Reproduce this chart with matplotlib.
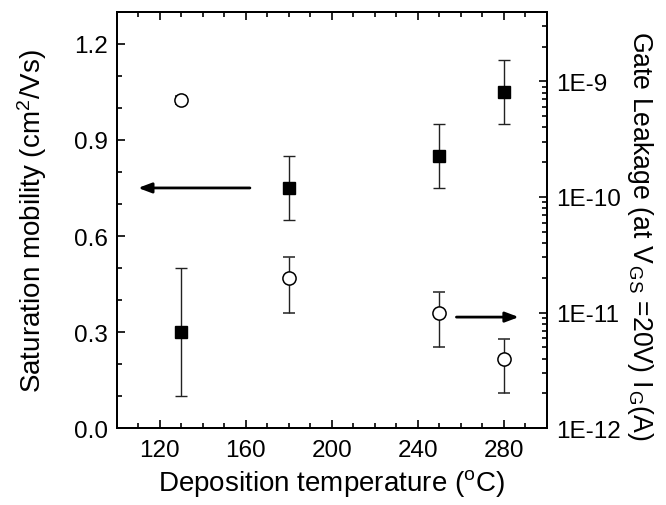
import matplotlib
matplotlib.use("Agg")
import matplotlib.pyplot as plt
from matplotlib.ticker import MultipleLocator, LogLocator, FuncFormatter, NullFormatter
import numpy as np

plt.rcParams['font.family'] = ['Liberation Sans', 'DejaVu Sans']
plt.rcParams['mathtext.fontset'] = 'custom'
plt.rcParams['mathtext.rm'] = 'Liberation Sans'
plt.rcParams['mathtext.it'] = 'Liberation Sans'
plt.rcParams['mathtext.bf'] = 'Liberation Sans:bold'

# 数据
temps = [130, 180, 250, 280]
mobility = [0.30, 0.75, 0.85, 1.05]
mobility_err = [0.20, 0.10, 0.10, 0.10]

leakage = [6.9e-10, 2.0e-11, 1.0e-11, 4.0e-12]
leakage_lo = [6.4e-10, 1.0e-11, 5.0e-12, 2.0e-12]
leakage_hi = [7.4e-10, 3.0e-11, 1.5e-11, 5.9e-12]

# 箭头 (温度, 迁移率坐标)
arrow_left = ((162, 0.75), (110, 0.75))
arrow_right = ((258, 0.347), (287, 0.347))

fig = plt.figure(figsize=(6.66, 5.06), dpi=100)
ax = fig.add_axes([0.175, 0.1516, 0.646, 0.8233])
ax2 = ax.twinx()

# 漏电流 (空心圆, 右轴)
lo = np.array(leakage) - np.array(leakage_lo)
hi = np.array(leakage_hi) - np.array(leakage)
ax2.errorbar(temps, leakage, yerr=[lo, hi], fmt='o', ms=9.5, mfc='white', mec='black',
             mew=1.1, ecolor='#222222', elinewidth=1.0, capsize=4.5, capthick=1.0)
ax2.set_yscale('log')
ax2.set_ylim(1e-12, 4e-9)
ax2.yaxis.set_major_locator(LogLocator(base=10, numticks=10))
ax2.yaxis.set_minor_locator(LogLocator(base=10, subs=np.arange(2, 10), numticks=20))
ax2.yaxis.set_major_formatter(FuncFormatter(lambda v, p: f"1E{int(round(np.log10(v)))}"))
ax2.yaxis.set_minor_formatter(NullFormatter())
ax2.set_ylabel("Gate Leakage (at V$_{\\,GS}$ =20V) I$_{\\,G}$(A)", fontsize=19.2,
               rotation=-90, va='center', ha='center')
ax2.yaxis.set_label_coords(1.217, 0.465)

# 迁移率 (实心方块, 左轴)
ax.errorbar(temps, mobility, yerr=mobility_err, fmt='s', ms=9, mfc='black', mec='black',
            ecolor='#222222', elinewidth=1.0, capsize=4.5, capthick=1.0, zorder=5)
ax.set_xlim(100, 300)
ax.set_ylim(0, 1.3)
ax.xaxis.set_major_locator(MultipleLocator(40))
ax.xaxis.set_minor_locator(MultipleLocator(10))
ax.yaxis.set_major_locator(MultipleLocator(0.3))
ax.yaxis.set_minor_locator(MultipleLocator(0.1))
ax.yaxis.set_major_formatter(FuncFormatter(lambda v, p: f"{v:.1f}"))
ax.set_xlabel("Deposition temperature ($^{\\rm o}$C)", fontsize=20, va='center')
ax.xaxis.set_label_coords(0.5, -0.13)
ax.set_ylabel("Saturation mobility (cm$^2$/Vs)", fontsize=20, va='center')
ax.yaxis.set_label_coords(-0.196, 0.5)

for a in (ax, ax2):
    for s in a.spines.values():
        s.set_linewidth(1.4)
ax.tick_params(axis='both', which='both', direction='in', top=True, right=False,
               labelsize=17.5, width=1.2)
ax.tick_params(which='major', length=6)
ax.tick_params(which='minor', length=3.5)
ax.tick_params(axis='x', pad=8)
ax.tick_params(axis='y', pad=6)
ax2.tick_params(axis='y', which='both', direction='in', labelsize=17.5, width=1.2, pad=7)
ax2.tick_params(which='major', length=6)
ax2.tick_params(which='minor', length=3.5)

# 箭头
for (start, end) in (arrow_left, arrow_right):
    ax.annotate("", xy=end, xytext=start,
                arrowprops=dict(arrowstyle='-|>,head_length=0.8,head_width=0.3',
                                color='black', lw=2, shrinkA=0, shrinkB=0))

fig.savefig("out.png", dpi=100)
